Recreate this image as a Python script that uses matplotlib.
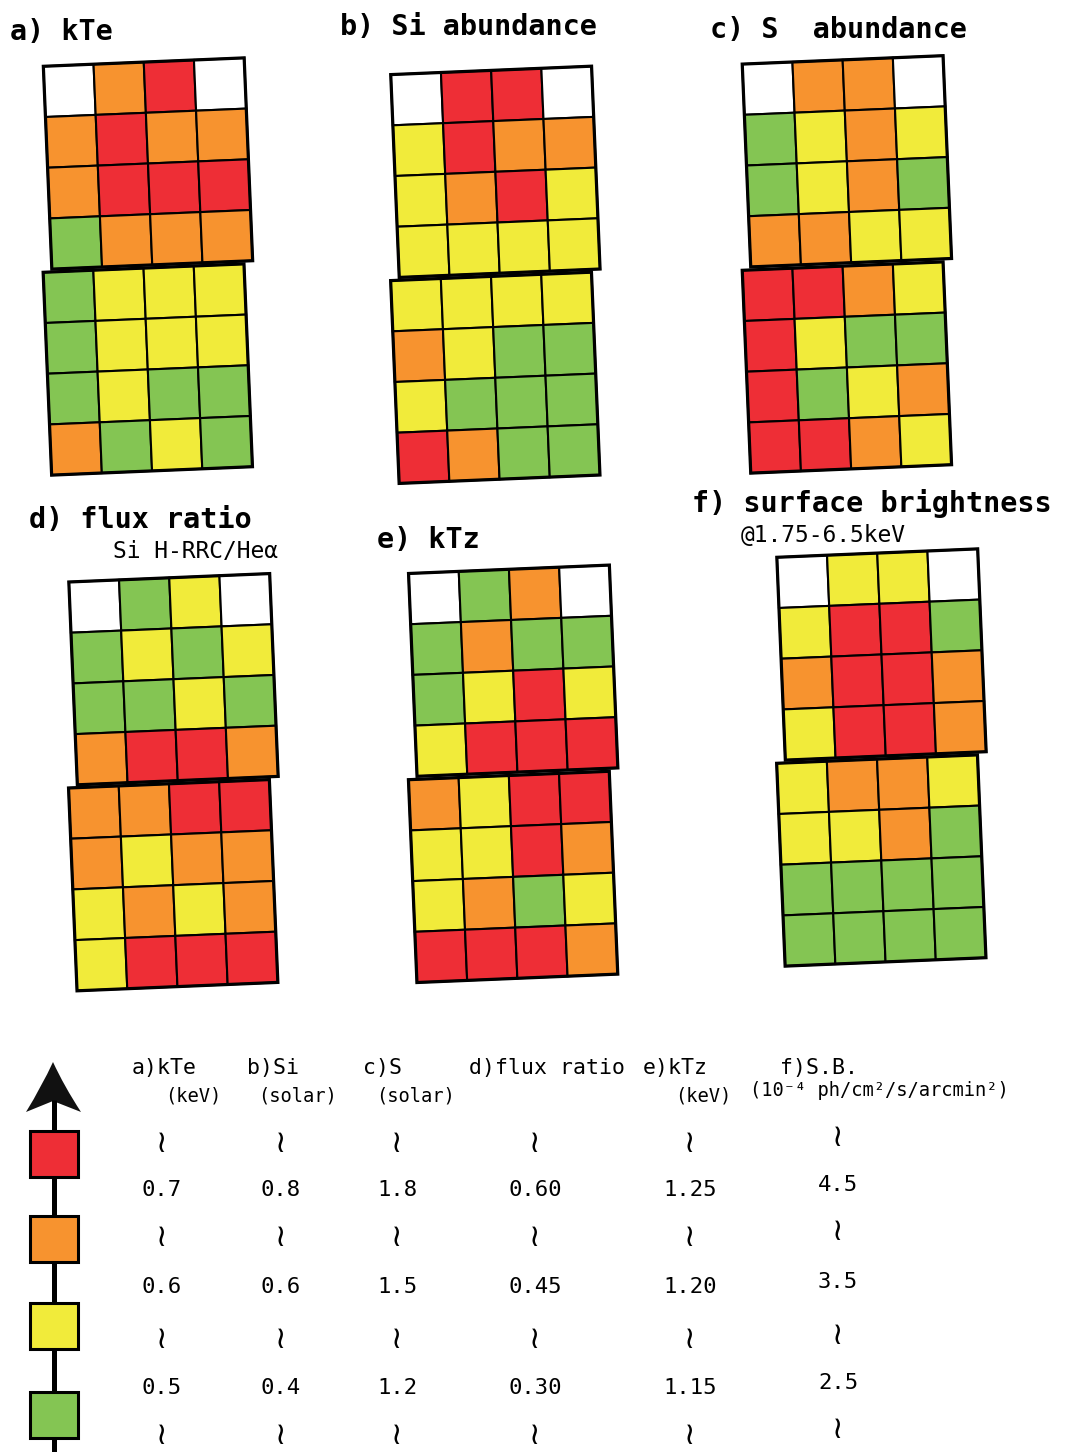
import matplotlib.pyplot as plt
from matplotlib.patches import Rectangle, PathPatch
from matplotlib.transforms import Affine2D
from matplotlib.path import Path

# level codes: -1 = no data (white), 0 = green, 1 = yellow, 2 = orange, 3 = red
colors = {-1: 'white', 0: '#84C553', 1: '#F1EB3A', 2: '#F7932F', 3: '#EE2E36'}

# each panel = two 4x4 maps (upper / lower field), rows top to bottom
kte_upper = [[-1, 2, 3, -1], [2, 3, 2, 2], [2, 3, 3, 3], [0, 2, 2, 2]]
kte_lower = [[0, 1, 1, 1], [0, 1, 1, 1], [0, 1, 0, 0], [2, 0, 1, 0]]
si_upper = [[-1, 3, 3, -1], [1, 3, 2, 2], [1, 2, 3, 1], [1, 1, 1, 1]]
si_lower = [[1, 1, 1, 1], [2, 1, 0, 0], [1, 0, 0, 0], [3, 2, 0, 0]]
s_upper = [[-1, 2, 2, -1], [0, 1, 2, 1], [0, 1, 2, 0], [2, 2, 1, 1]]
s_lower = [[3, 3, 2, 1], [3, 1, 0, 0], [3, 0, 1, 2], [3, 3, 2, 1]]
flux_upper = [[-1, 0, 1, -1], [0, 1, 0, 1], [0, 0, 1, 0], [2, 3, 3, 2]]
flux_lower = [[2, 2, 3, 3], [2, 1, 2, 2], [1, 2, 1, 2], [1, 3, 3, 3]]
ktz_upper = [[-1, 0, 2, -1], [0, 2, 0, 0], [0, 1, 3, 1], [1, 3, 3, 3]]
ktz_lower = [[2, 1, 3, 3], [1, 1, 3, 2], [1, 2, 0, 1], [3, 3, 3, 2]]
sb_upper = [[-1, 1, 1, -1], [1, 3, 3, 0], [2, 3, 3, 2], [1, 3, 3, 2]]
sb_lower = [[1, 2, 2, 1], [1, 1, 2, 0], [0, 0, 0, 0], [0, 0, 0, 0]]

titles = ['a) kTe', 'b) Si abundance', 'c) S  abundance',
          'd) flux ratio', 'e) kTz', 'f) surface brightness']
subtitles = ['', '', '', 'Si H-RRC/Heα', '', '@1.75-6.5keV']

# legend
legend_levels = [3, 2, 1, 0]
legend_headers = ['a)kTe', 'b)Si', 'c)S', 'd)flux ratio', 'e)kTz', 'f)S.B.']
legend_units = ['(keV)', '(solar)', '(solar)', '', '(keV)', '(10⁻⁴ ph/cm²/s/arcmin²)']
legend_bounds = [['0.7', '0.6', '0.5'],
                 ['0.8', '0.6', '0.4'],
                 ['1.8', '1.5', '1.2'],
                 ['0.60', '0.45', '0.30'],
                 ['1.25', '1.20', '1.15'],
                 ['4.5', '3.5', '2.5']]

# layout (pixels)
panels = [
    (kte_upper, kte_lower, (148, 163.5), (147.8, 369.5), (10, 32), (0, 0)),
    (si_upper, si_lower, (495.4, 171.8), (495.3, 377.8), (340, 27), (0, 0)),
    (s_upper, s_lower, (846.9, 161.3), (846.9, 367.5), (710, 30), (0, 0)),
    (flux_upper, flux_lower, (173.5, 679.2), (173.2, 885.2), (29, 520), (113, 552)),
    (ktz_upper, ktz_lower, (513.2, 670.7), (513.1, 876.9), (377, 540), (0, 0)),
    (sb_upper, sb_lower, (881.5, 654.5), (881.3, 860.5), (692, 503), (741, 536)),
]

MONO = ['DejaVu Sans Mono', 'DejaVu Sans']

fig = plt.figure(figsize=(10.69, 14.52), dpi=100)
ax = fig.add_axes([0, 0, 1, 1])
ax.set_xlim(0, 1069)
ax.set_ylim(1452, 0)
ax.axis('off')


def draw_grid(levels, cx, cy, w=201, h=203, angle=-2.4):
    tr = Affine2D().rotate_deg_around(cx, cy, angle) + ax.transData
    nr, nc = len(levels), len(levels[0])
    cw, ch = w / nc, h / nr
    for i in range(nr):
        for j in range(nc):
            ax.add_patch(Rectangle((cx - w / 2 + j * cw, cy - h / 2 + i * ch), cw, ch,
                                   facecolor=colors[levels[i][j]], edgecolor='black',
                                   lw=1.5, transform=tr))
    ax.add_patch(Rectangle((cx - w / 2, cy - h / 2), w, h, fill=False,
                           edgecolor='black', lw=2.3, transform=tr))


for k, (up, low, c_up, c_low, tpos, spos) in enumerate(panels):
    draw_grid(up, *c_up)
    draw_grid(low, *c_low)
    ax.text(tpos[0], tpos[1], titles[k], family=MONO, fontweight='bold',
            fontsize=20.5, ha='left', va='center')
    if subtitles[k]:
        ax.text(spos[0], spos[1], subtitles[k], family=MONO, fontsize=16.5,
                ha='left', va='center')

# -------------------------------
# legend: arrow + colour boxes
# -------------------------------
ax.plot([54, 54], [1100, 1452], color='black', lw=3.6, solid_capstyle='butt')
head = Path([(53, 1062), (42, 1086), (26, 1112), (53, 1101), (81, 1112),
             (64, 1086), (53, 1062)],
            [Path.MOVETO, Path.CURVE3, Path.CURVE3, Path.LINETO, Path.LINETO,
             Path.CURVE3, Path.CURVE3])
ax.add_patch(PathPatch(head, facecolor='#111111', edgecolor='none'))

box_y = [1154, 1239, 1326, 1415]
for lev, y in zip(legend_levels, box_y):
    ax.add_patch(Rectangle((30, y - 23), 48, 46, facecolor=colors[lev],
                           edgecolor='black', lw=2.2, zorder=3))

header_x = [132, 247, 363, 469, 643, 780]
unit_x = [165, 258, 376, 0, 675, 750]
value_x = [162, 281, 397, 535, 690, 838]
y_shift = [0, 0, 0, 0, 0, -5]
tilde_y = [1143, 1237, 1340, 1435]
value_y = [1190, 1287, 1388]

for k in range(len(legend_headers)):
    ax.text(header_x[k], 1068, legend_headers[k], family=MONO, fontsize=15.5,
            ha='left', va='center')
    if legend_units[k]:
        ax.text(unit_x[k], 1096 + y_shift[k], legend_units[k], family=MONO,
                fontsize=13.5, ha='left', va='center')
    for y in tilde_y:
        ax.text(value_x[k], y + y_shift[k], '≀', family=MONO, fontsize=22,
                ha='center', va='center')
    for v, y in zip(legend_bounds[k], value_y):
        ax.text(value_x[k], y + y_shift[k], v, family=MONO, fontsize=16,
                ha='center', va='center')

fig.savefig('out.png', dpi=100, facecolor='white')
